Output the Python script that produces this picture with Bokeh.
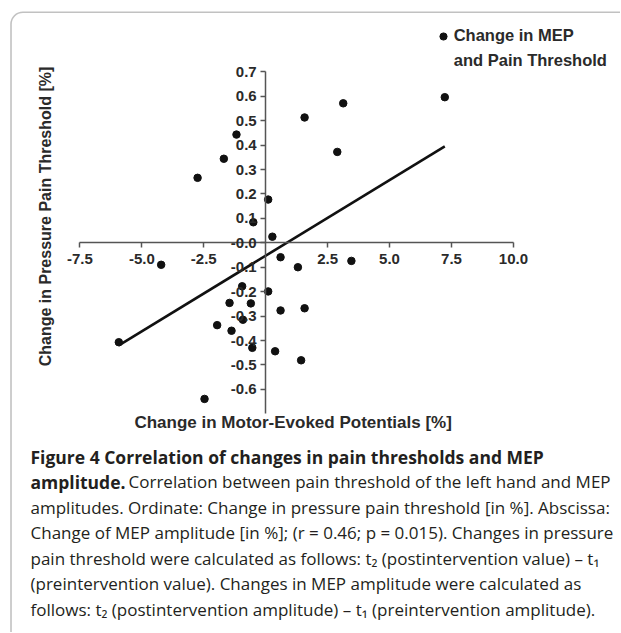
import numpy as np
from bokeh.plotting import figure
from bokeh.models import (FixedTicker, PrintfTickFormatter, Label, Legend,
                          LegendItem, BoxAnnotation, Range1d)
from bokeh.embed import file_html
from bokeh.resources import INLINE

# ---------------- data ----------------
mep_change = [-4.22, -2.75, -1.69, -1.18, 0.10, -0.50, 0.27, 0.60, 1.30, 1.57,
              3.13, 2.89, 3.46, 7.23, -5.93, -0.95, -1.46, -0.60, -0.92, -1.96,
              -1.38, -0.54, 0.10, 0.60, 1.57, 0.38, 1.43, -2.47]
pain_change = [-0.090, 0.266, 0.344, 0.443, 0.177, 0.084, 0.025, -0.059, -0.100, 0.513,
               0.571, 0.372, -0.074, 0.596, -0.407, -0.178, -0.246, -0.248, -0.315, -0.337,
               -0.360, -0.430, -0.199, -0.277, -0.268, -0.444, -0.481, -0.639]
fit_x = [-5.93, 7.23]
fit_y = [-0.42, 0.395]

x_ticks = [-7.5, -5.0, -2.5, 2.5, 5.0, 7.5, 10.0]
y_ticks = [0.7, 0.6, 0.5, 0.4, 0.3, 0.2, 0.1, 0.0, -0.1, -0.2, -0.3, -0.4, -0.5, -0.6]
y_label_overrides = {0.0: "-0.0"}
x_bounds = (-7.5, 10.0)
y_bounds = (-0.7, 0.7)

legend_lines = ["Change in MEP", "and Pain Threshold"]
x_title = "Change in Motor-Evoked Potentials  [%]"
y_title = "Change in Pressure Pain Threshold [%]"

caption_bold_1 = "Figure 4 Correlation of changes in pain thresholds and MEP"
caption_bold_2 = "amplitude."
caption_rest_2 = "Correlation between pain threshold of the left hand and MEP"
caption_lines = [
    "amplitudes. Ordinate: Change in pressure pain threshold [in %]. Abscissa:",
    "Change of MEP amplitude [in %]; (r = 0.46; p = 0.015). Changes in pressure",
    "pain threshold were calculated as follows: t\u2082 (postintervention value) \u2013 t\u2081",
    "(preintervention value). Changes in MEP amplitude were calculated as",
    "follows: t\u2082 (postintervention amplitude) \u2013 t\u2081 (preintervention amplitude).",
]

# ---------------- layout constants (page pixels) ----------------
W, H = 620, 632
X0_PX, X_SCALE = 265.2, 24.77     # screen px of x = 0, px per unit
Y0_PX, Y_SCALE = 242.3, 244.3     # screen px (from top) of y = 0, px per unit

p = figure(width=W, height=H, output_backend="svg", toolbar_location=None,
           title=None,
           x_range=Range1d(-X0_PX / X_SCALE, (W - X0_PX) / X_SCALE),
           y_range=Range1d((Y0_PX - H) / Y_SCALE, Y0_PX / Y_SCALE),
           min_border=0, min_border_left=0, min_border_right=0,
           min_border_top=0, min_border_bottom=0)
p.outline_line_color = None
p.grid.visible = False
p.background_fill_color = "white"
p.border_fill_color = "white"

AX_COL = "#555555"
TXT_COL = "#2a2a2a"
FONT = "Liberation Sans"

for ax in (p.xaxis[0], p.yaxis[0]):
    ax.fixed_location = 0
    ax.axis_line_color = AX_COL
    ax.axis_line_width = 1.5
    ax.major_tick_line_color = AX_COL
    ax.major_tick_line_width = 1.5
    ax.major_tick_in = 0
    ax.major_tick_out = 5
    ax.minor_tick_line_color = None
    ax.major_label_text_font = FONT
    ax.major_label_text_font_style = "bold"
    ax.major_label_text_font_size = "15px"
    ax.major_label_text_color = TXT_COL
    ax.formatter = PrintfTickFormatter(format="%.1f")

p.xaxis[0].ticker = FixedTicker(ticks=x_ticks)
p.xaxis[0].bounds = x_bounds
p.xaxis[0].major_label_standoff = 6
p.yaxis[0].ticker = FixedTicker(ticks=y_ticks)
p.yaxis[0].bounds = y_bounds
p.yaxis[0].major_label_overrides = y_label_overrides
p.yaxis[0].major_label_standoff = 4

line_r = p.line(fit_x, fit_y, line_width=2.6, line_color="#111111")
pts = p.scatter(mep_change, pain_change, size=7.5, fill_color="#111111",
                line_color="#111111")

legend = Legend(items=[LegendItem(label=legend_lines[0], renderers=[pts])],
                location=(433.7, H - 45), border_line_color=None,
                background_fill_alpha=0, padding=0, margin=0, spacing=0,
                glyph_width=18, glyph_height=18, label_standoff=2,
                label_height=18,
                label_text_font=FONT, label_text_font_style="bold",
                label_text_font_size="16.5px", label_text_color=TXT_COL)
p.add_layout(legend)

def lab(x, y_from_top, text, **kw):
    opts = dict(x=x, y=H - y_from_top, x_units="screen", y_units="screen",
                text=text, text_baseline="middle")
    opts.update(kw)
    p.add_layout(Label(**opts))

lab(453.3, 59.3, legend_lines[1], text_font=FONT, text_font_style="bold",
    text_font_size="16.5px", text_color=TXT_COL)

lab(295, 421.7, x_title, text_align="center", text_font=FONT,
    text_font_style="bold", text_font_size="17px", text_color=TXT_COL)
lab(44.5, 216, y_title, text_align="center", angle=np.pi / 2, text_font=FONT,
    text_font_style="bold", text_font_size="16px", text_color=TXT_COL)

CAP_FONT = "Open Sans"
CAP_SIZE = "17px"
CAP_COL = "#231f20"
CAP_X = 30
cap_y = [456, 481, 507, 532, 558, 583, 609]
lab(CAP_X, cap_y[0], caption_bold_1, text_font=CAP_FONT, text_font_style="bold",
    text_font_size="17.5px", text_color=CAP_COL)
lab(CAP_X, cap_y[1], caption_bold_2, text_font=CAP_FONT, text_font_style="bold",
    text_font_size="17.5px", text_color=CAP_COL)
lab(CAP_X + 98, cap_y[1], caption_rest_2, text_font=CAP_FONT,
    text_font_size=CAP_SIZE, text_color=CAP_COL)
for yy, t in zip(cap_y[2:], caption_lines):
    lab(CAP_X, yy, t, text_font=CAP_FONT, text_font_size=CAP_SIZE, text_color=CAP_COL)

# frame with rounded top-left corner
p.add_layout(BoxAnnotation(left=10.5, right=W + 30, top=H - 11.7, bottom=-30,
                           left_units="screen", right_units="screen",
                           top_units="screen", bottom_units="screen",
                           fill_alpha=0, line_color="#333333", line_width=1.6,
                           border_radius=12))

open("out.html", "w").write(file_html(p, INLINE))
